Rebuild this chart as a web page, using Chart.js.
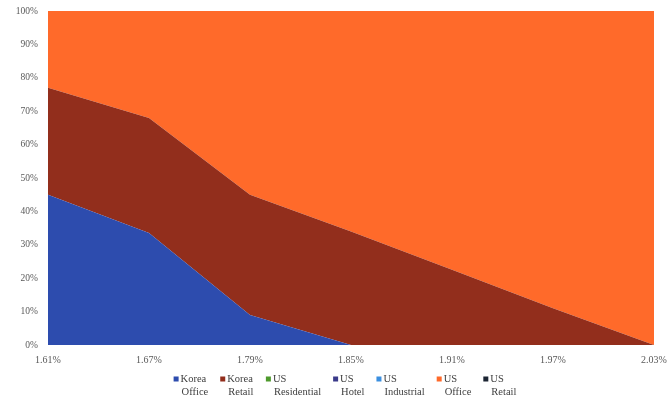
<!DOCTYPE html>
<html>
<head>
<meta charset="utf-8">
<script src="https://cdn.jsdelivr.net/npm/chart.js@4"></script>
<style>
  html, body { margin: 0; padding: 0; background: #fff; }
  canvas { display: block; }
</style>
</head>
<body>
<canvas id="chart" width="668" height="400"></canvas>
<script>
// x categories (rates) and share of each segment, in %
const rates = ['1.61%', '1.67%', '1.79%', '1.85%', '1.91%', '1.97%', '2.03%'];
const koreaOffice   = [45, 33.5, 9, 0, 0, 0, 0];
const koreaRetail   = [32, 34.5, 36, 34, 22.5, 11, 0];
const usResidential = [0, 0, 0, 0, 0, 0, 0];
const usHotel       = [0, 0, 0, 0, 0, 0, 0];
const usIndustrial  = [0, 0, 0, 0, 0, 0, 0];
const usOffice      = [23, 32, 55, 66, 77.5, 89, 100];
const usRetail      = [0, 0, 0, 0, 0, 0, 0];
const yTicks = [0, 10, 20, 30, 40, 50, 60, 70, 80, 90, 100];

const FONT = "'Liberation Serif', 'Times New Roman', serif";

const series = [
  { name: ['Korea', 'Office'], data: koreaOffice, color: '#2d4cae' },
  { name: ['Korea', 'Retail'], data: koreaRetail, color: '#922e1c' },
  { name: ['US', 'Residential'], data: usResidential, color: '#4e9a2c' },
  { name: ['US', 'Hotel'], data: usHotel, color: '#3a3a8a' },
  { name: ['US', 'Industrial'], data: usIndustrial, color: '#3b8fe0' },
  { name: ['US', 'Office'], data: usOffice, color: '#ff6a2a' },
  { name: ['US', 'Retail'], data: usRetail, color: '#1c2533' }
];

// two-line legend drawn under the plot, like the spreadsheet one
const wrapLegend = {
  id: 'wrapLegend',
  afterDraw(chart) {
    const ctx = chart.ctx;
    ctx.save();
    ctx.font = '10.5px ' + FONT;
    ctx.textBaseline = 'middle';
    ctx.textAlign = 'left';
    const gap = 12, box = 5, y1 = 379, y2 = 392;
    const widths = series.map(s => box + 3 + Math.max(...s.name.map(t => ctx.measureText(t).width)));
    const total = widths.reduce((a, b) => a + b, 0) + gap * (series.length - 1);
    let x = (chart.chartArea.left + chart.chartArea.right) / 2 - total / 2 - 6;
    series.forEach((s, i) => {
      ctx.fillStyle = s.color;
      ctx.fillRect(x, y1 - box / 2, box, box);
      ctx.fillStyle = '#404040';
      ctx.fillText(s.name[0], x + box + 2, y1);
      ctx.fillText(s.name[1], x + box + 3, y2);
      x += widths[i] + gap;
    });
    ctx.restore();
  }
};

new Chart(document.getElementById('chart'), {
  type: 'line',
  data: {
    labels: rates,
    datasets: series.map(s => ({
      label: s.name.join(' '),
      data: s.data,
      backgroundColor: s.color,
      borderColor: s.color,
      borderWidth: 0,
      pointRadius: 0,
      fill: 'stack',
      tension: 0
    }))
  },
  options: {
    responsive: false,
    animation: false,
    layout: { padding: { top: 11, right: 14, bottom: 0, left: 0 } },
    plugins: {
      legend: { display: false },
      tooltip: { enabled: false }
    },
    scales: {
      x: {
        offset: false,
        grid: { display: false, drawTicks: false },
        border: { display: false },
        ticks: {
          color: '#595959',
          font: { family: FONT, size: 10 },
          padding: 9,
          maxRotation: 0,
          autoSkip: false
        },
        afterFit(scale) {
          scale.height = 55;
          scale.paddingLeft = 0;
          scale.paddingRight = 0;
        }
      },
      y: {
        stacked: true,
        min: 0,
        max: 100,
        grid: { display: false, drawTicks: false },
        border: { display: false },
        afterBuildTicks(scale) {
          scale.ticks = yTicks.map(v => ({ value: v }));
        },
        ticks: {
          color: '#595959',
          font: { family: FONT, size: 9.5 },
          padding: 10,
          callback: v => v + '%'
        },
        afterFit(scale) {
          scale.width = 48;
          scale.paddingTop = 0;
          scale.paddingBottom = 0;
        }
      }
    }
  },
  plugins: [wrapLegend]
});
</script>
</body>
</html>
